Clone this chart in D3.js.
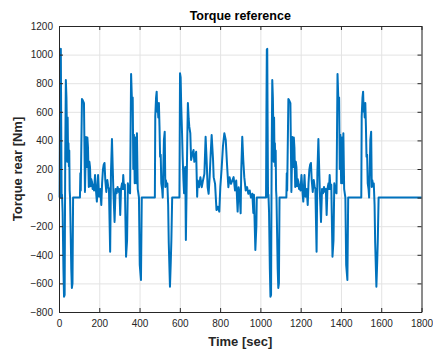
<!DOCTYPE html>
<html><head><meta charset="utf-8">
<script src="https://cdn.jsdelivr.net/npm/d3@7"></script>
<style>
html,body{margin:0;padding:0;background:#fff;}
text{font-family:"Liberation Sans",Arial,sans-serif;}
</style></head>
<body>
<svg id="c" width="433" height="354"></svg>
<script>
const chartTitle = "Torque reference";
const xLabel = "Time [sec]";
const yLabel = "Torque rear [Nm]";
const xTicks = [0,200,400,600,800,1000,1200,1400,1600,1800];
const yTicks = [-800,-600,-400,-200,0,200,400,600,800,1000,1200];

const timeSec = [
0,3,5,7,9,11,13,15,18,22,25,28,31,34,37,39,41,43,45,47,49,51,53,55,58,61,64,67,70,
104,106,108,114,118,124,129,134,136,139,141,144,148,151,154,157,160,164,167,171,174,179,183,188,194,199,
205,210,214,218,222,226,230,235,240,244,248,254,258,263,267,270,276,281,286,291,296,300,304,308,313,316,319,323,327,
333,338,342,348,353,358,363,366,369,372,376,380,384,387,391,397,401,407,411,
476,478,482,485,488,490,493,496,499,502,505,508,512,515,518,521,525,528,531,535,538,542,545,551,555,558,562,
598,601,604,607,611,614,618,621,624,627,630,634,637,640,644,647,652,656,663,668,672,676,681,686,689,696,702,709,715,722,
728,733,738,743,748,753,758,765,768,775,782,788,796,801,808,814,821,828,834,841,847,854,861,867,874,880,887,892,897,902,
905,910,915,920,927,934,940,947,953,960,965,968,975,980,982,
1028,1030,1032,1034,1036,1038,1040,1043,1047,1050,1053,1056,1059,1062,1064,1066,1068,1070,1072,1074,1076,1078,1080,1083,1086,1089,1092,1095,
1129,1131,1133,1139,1143,1149,1154,1159,1161,1164,1166,1169,1173,1176,1179,1182,1185,1189,1192,1196,1199,1204,1208,1213,1219,1224,
1230,1235,1239,1243,1247,1251,1255,1260,1265,1269,1273,1279,1283,1288,1292,1295,1301,1306,1311,1316,1321,1325,1329,1333,1338,1341,1344,1348,1352,
1358,1363,1367,1373,1378,1383,1388,1391,1394,1397,1401,1405,1409,1412,1416,1422,1426,1432,1436,
1501,1503,1507,1510,1513,1515,1518,1521,1524,1527,1530,1533,1537,1540,1543,1546,1550,1553,1556,1560,1563,1567,1570,1576,1580,1583,1587,
1800
];
const torqueNm = [
0,0,600,1035,1040,500,0,20,-100,-500,-693,-680,300,822,700,500,250,560,300,380,220,330,50,0,-250,-500,-632,-600,0,
0,170,50,690,680,660,40,424,300,214,420,350,74,250,214,80,130,109,60,90,50,158,60,-28,158,6,
60,-52,100,193,230,242,120,39,123,80,60,-378,172,410,200,50,-170,60,30,74,40,60,-122,60,100,60,158,60,90,
-413,-300,100,40,30,865,640,700,200,440,100,420,100,450,60,0,-470,-576,0,
0,566,700,741,600,661,560,661,500,286,300,100,60,0,200,403,461,74,121,80,98,-50,-318,-623,-450,-297,0,
0,869,840,636,450,286,120,30,180,214,-297,100,403,661,550,496,450,263,310,333,250,286,320,6,120,73,143,73,120,166,
426,263,73,27,143,300,437,263,143,96,-87,-64,-98,73,213,356,450,403,240,73,143,96,120,143,50,120,-98,73,27,-110,
190,426,263,143,50,73,27,50,0,27,-108,20,-367,-200,0,
0,600,1035,1040,500,0,20,-100,-500,-693,-680,300,822,700,500,250,560,300,380,220,330,50,0,-250,-500,-632,-600,0,
0,170,50,690,680,660,40,424,300,214,420,350,74,250,214,80,130,109,60,90,50,158,60,-28,158,6,
60,-52,100,193,230,242,120,39,123,80,60,-378,172,410,200,50,-170,60,30,74,40,60,-122,60,100,60,158,60,90,
-413,-300,100,40,30,865,640,700,200,440,100,420,100,450,60,0,-470,-576,0,
0,566,700,741,600,661,560,661,500,286,300,100,60,0,200,403,461,74,121,80,98,-50,-318,-623,-450,-297,0,
0
];

const svg = d3.select("#c");
const L = 59, R = 421.5, T = 26, B = 312;
const x = d3.scaleLinear().domain([0,1800]).range([L,R]);
const y = d3.scaleLinear().domain([-800,1200]).range([B,T]);
const ink = "#262626";

// grid
svg.append("g").attr("transform",`translate(0,${B})`)
  .call(d3.axisBottom(x).tickValues(xTicks).tickSize(-(B-T)).tickFormat(""))
  .call(g=>{g.select(".domain").remove();g.selectAll("line").attr("stroke","#e3e3e3").attr("stroke-width",1);});
svg.append("g").attr("transform",`translate(${L},0)`)
  .call(d3.axisLeft(y).tickValues(yTicks).tickSize(-(R-L)).tickFormat(""))
  .call(g=>{g.select(".domain").remove();g.selectAll("line").attr("stroke","#e3e3e3").attr("stroke-width",1);});

// line
const data = timeSec.map((t,i)=>({t, v: torqueNm[i]}));
svg.append("path").datum(data)
  .attr("fill","none").attr("stroke","#0072BD").attr("stroke-width",2)
  .attr("stroke-linejoin","round")
  .attr("d", d3.line().x(d=>x(d.t)).y(d=>y(d.v)));

// axes with inward ticks
const styleAxis = g => {
  g.selectAll("line").attr("stroke",ink);
  g.select(".domain").attr("stroke",ink);
  g.selectAll("text").attr("fill",ink).style("font-size","10px").style("font-family","'Liberation Sans',Arial,sans-serif");
};
svg.append("g").attr("transform",`translate(0,${B})`)
  .call(d3.axisBottom(x).tickValues(xTicks).tickSizeInner(-4).tickSizeOuter(0).tickPadding(8).tickFormat(d3.format("d")))
  .call(styleAxis);
svg.append("g").attr("transform",`translate(0,${T})`)
  .call(d3.axisTop(x).tickValues(xTicks).tickSizeInner(-4).tickSizeOuter(0).tickFormat(""))
  .call(styleAxis);
svg.append("g").attr("transform",`translate(${L},0)`)
  .call(d3.axisLeft(y).tickValues(yTicks).tickSizeInner(-4).tickSizeOuter(0).tickPadding(6).tickFormat(d3.format("d")))
  .call(styleAxis);
svg.append("g").attr("transform",`translate(${R},0)`)
  .call(d3.axisRight(y).tickValues(yTicks).tickSizeInner(-4).tickSizeOuter(0).tickFormat(""))
  .call(styleAxis);

// labels
svg.append("text").attr("x",(L+R)/2).attr("y",20).attr("text-anchor","middle")
  .style("font-size","12.5px").style("font-weight","bold").attr("fill","#000").text(chartTitle);
svg.append("text").attr("x",(L+R)/2).attr("y",346).attr("text-anchor","middle")
  .style("font-size","13px").style("font-weight","bold").attr("fill",ink).text(xLabel);
svg.append("text").attr("transform",`translate(22,${(T+B)/2}) rotate(-90)`).attr("text-anchor","middle")
  .style("font-size","13px").style("font-weight","bold").attr("fill",ink).text(yLabel);
</script>
</body></html>
